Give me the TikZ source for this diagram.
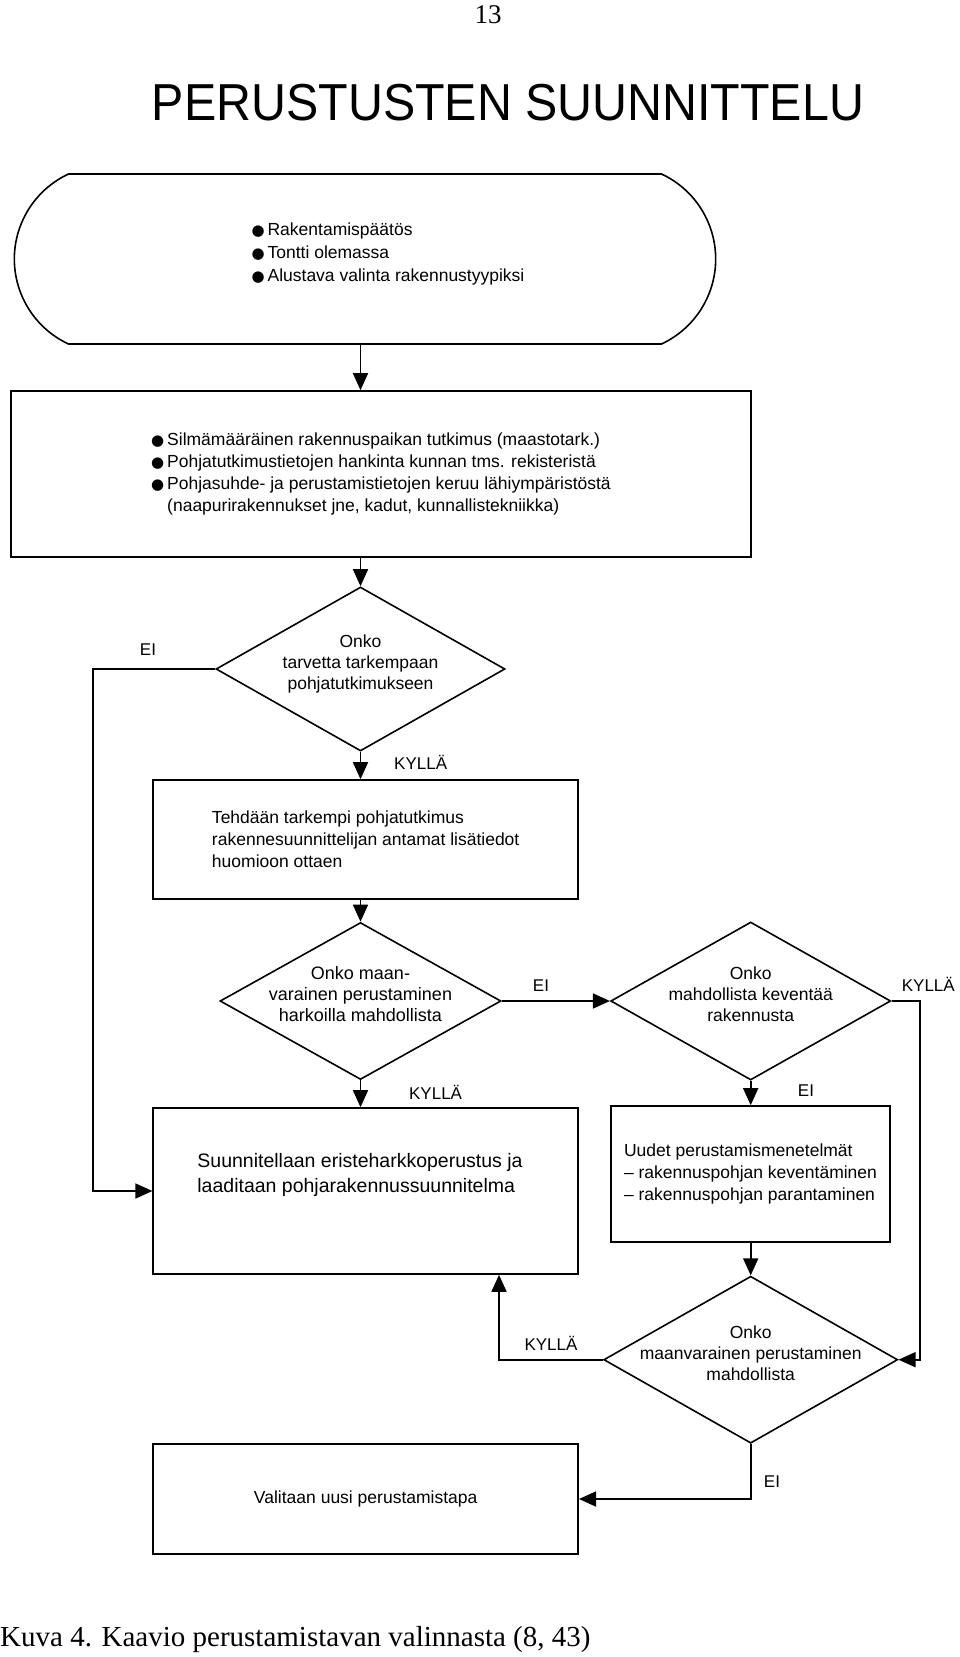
\documentclass[tikz,border=0pt]{standalone}
\usepackage{fontspec}
\usepackage{graphicx}
\setmainfont{Liberation Sans}
\newfontfamily\capfont{Liberation Serif}
\newfontfamily\dotfont{DejaVu Sans}
\usetikzlibrary{shapes.geometric,shapes.misc,arrows.meta}
\newcommand{\blt}{{\dotfont\fontsize{15}{15}\selectfont ●}}
\newcommand{\dtxt}[1]{\smash{\makebox[0pt]{\begin{tabular}{@{}c@{}}#1\end{tabular}}}}

\begin{document}
\begin{tikzpicture}[x=1pt,y=-1pt,
    box/.style={draw,line width=1.6pt,inner sep=0pt,align=left,font=\fontsize{17.5}{22}\selectfont},
    dia/.style={draw,diamond,line width=1.6pt,inner sep=0pt,font=\fontsize{17.5}{21}\selectfont},
    txt/.style={inner sep=0pt,align=left,font=\fontsize{17.5}{22}\selectfont},
    lbl/.style={inner sep=0pt,font=\fontsize{17}{20}\selectfont},
    arr/.style={line width=1.6pt,-{Triangle[length=17pt,width=15pt]}}]
    \useasboundingbox (0,0) rectangle (960,1657);
    \coordinate (leftrail) at (93,0);
    \coordinate (backrail) at (499,0);
    \coordinate (rightrail) at (920,0);
    % otsikko
    \node[inner sep=0pt,font=\capfont\fontsize{27}{27}\selectfont] (pagenum) at (488,15) {13};
    \node[inner sep=0pt,font=\fontsize{52}{52}\selectfont] (title) at (508,103)
        {\scalebox{0.93}[1]{PERUSTUSTEN SUUNNITTELU}};
    \node[draw,line width=1.6pt,rounded rectangle,rounded rectangle arc length=130,
        minimum width=708,minimum height=170] (start) at (365,259) {};
    \node[txt,font=\fontsize{17.5}{23}\selectfont] (starttxt) at (388,254)
        {\begin{tabular}{@{}l@{\,}l@{}}
         \blt&Rakentamispäätös\\
         \blt&Tontti olemassa\\
         \blt&Alustava valinta rakennustyypiksi
         \end{tabular}};
    \node[box,minimum width=740,minimum height=166] (survey) at (381,474)
        {\begin{tabular}{@{}l@{\,}l@{}}
         \blt&Silmämääräinen rakennuspaikan tutkimus (maastotark.)\\
         \blt&Pohjatutkimustietojen hankinta kunnan tms. rekisteristä\\
         \blt&Pohjasuhde- ja perustamistietojen keruu lähiympäristöstä\\
         &(naapurirakennukset jne, kadut, kunnallistekniikka)
         \end{tabular}};
    \node[dia,minimum width=289,minimum height=164] (needinv) at (360.5,669)
        {\dtxt{Onko\\tarvetta tarkempaan\\pohjatutkimukseen}};
    \node[box,minimum width=425,minimum height=119] (detail) at (365.7,839.5)
        {Tehdään tarkempi pohjatutkimus\\rakennesuunnittelijan antamat lisätiedot\\huomioon ottaen};
    \node[dia,minimum width=281,minimum height=157,font=\fontsize{18}{21}\selectfont] (ontrench) at (360.5,1001)
        {\dtxt{Onko maan-\\varainen perustaminen\\harkoilla mahdollista}};
    \node[dia,minimum width=280,minimum height=158] (lighten) at (750.7,1001)
        {\dtxt{Onko\\mahdollista keventää\\rakennusta}};
    \node[box,minimum width=425,minimum height=166] (design) at (365.7,1191) {};
    \node[txt,font=\fontsize{19.5}{25}\selectfont] (designtxt) at (360,1175)
        {Suunnitellaan eristeharkkoperustus ja\\laaditaan pohjarakennussuunnitelma};
    \node[box,minimum width=279,minimum height=136] (newmeth) at (750.5,1174)
        {Uudet perustamismenetelmät\\– rakennuspohjan keventäminen\\– rakennuspohjan parantaminen};
    \node[dia,minimum width=294,minimum height=167] (recheck) at (750.7,1359.7)
        {\dtxt{Onko\\maanvarainen perustaminen\\mahdollista}};
    \node[box,minimum width=425,minimum height=110] (newway) at (365.7,1499)
        {Valitaan uusi perustamistapa};
    % nuolet
    \draw[arr] (start.south -| needinv) -- (survey.north -| needinv);
    \draw[arr] (survey.south -| needinv) -- (needinv.north);
    \draw[arr] (needinv.south) -- (detail.north -| needinv);
    \draw[arr] (needinv.west) -- (needinv.west -| leftrail) |- (design.west);
    \draw[arr] (detail.south -| needinv) -- (ontrench.north);
    \draw[arr] (ontrench.south) -- (design.north -| ontrench);
    \draw[arr] (ontrench.east) -- (lighten.west);
    \draw[arr] (lighten.south) -- (newmeth.north -| lighten);
    \draw[arr] (lighten.east) -- (lighten.east -| rightrail) |- (recheck.east);
    \draw[arr] (newmeth.south -| lighten) -- (recheck.north);
    \draw[arr] (recheck.west) -| (design.south -| backrail);
    \draw[arr] (recheck.south) |- (newway.east);
    \node[lbl] (ei1) at (148,650) {EI};
    \node[lbl,anchor=west] (kylla1) at (394,762) {KYLLÄ};
    \node[lbl] (kylla2) at (435.6,1092) {KYLLÄ};
    \node[lbl] (ei2) at (541,986) {EI};
    \node[lbl] (kylla3) at (928.3,984) {KYLLÄ};
    \node[lbl] (ei3) at (806,1091) {EI};
    \node[lbl] (kylla4) at (551,1343) {KYLLÄ};
    \node[lbl] (ei4) at (772,1482) {EI};
    \node[inner sep=0pt,anchor=west,font=\capfont\fontsize{29}{30}\selectfont] (caption) at (0,1640)
        {Kuva 4. Kaavio perustamistavan valinnasta (8, 43)};
\end{tikzpicture}
\end{document}
